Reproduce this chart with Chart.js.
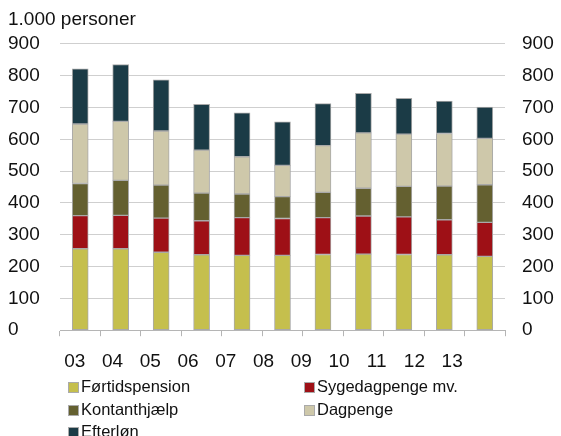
<!DOCTYPE html>
<html>
<head>
<meta charset="utf-8">
<script src="https://cdn.jsdelivr.net/npm/chart.js@4.4.1/dist/chart.umd.min.js"></script>
<style>
  html, body { margin: 0; padding: 0; background: #fff; }
  #wrap { position: relative; width: 561px; height: 436px; overflow: hidden; }
  #legend { position: absolute; left: 68px; top: 375px; width: 480px; font-family: "Liberation Sans", Arial, sans-serif; font-size: 16.5px; color: #111; }
  .item { position: absolute; height: 22px; line-height: 22px; white-space: nowrap; }
  .box { display: inline-block; width: 11px; height: 11px; margin-right: 2px; vertical-align: -1px; border: 1px solid #aaa; box-sizing: border-box; }
</style>
</head>
<body>
<div id="wrap">
  <canvas id="c" width="561" height="436"></canvas>
  <div id="legend"></div>
</div>
<script>
const categories = ["03","04","05","06","07","08","09","10","11","12","13"];
const fortidspension = [256,256,245,237,235,235,238,239,238,237,232];
const sygedagpenge   = [104,105,107,107,119,116,116,120,118,110,107];
const kontanthjaelp  = [101,110,104, 87, 74, 69, 79, 87, 96,106,118];
const dagpenge       = [187,185,170,135,117, 98,147,174,164,165,146];
const efterlon       = [173,179,161,144,138,137,132,124,113,102, 98];
const seriesNames = ["Førtidspension","Sygedagpenge mv.","Kontanthjælp","Dagpenge","Efterløn"];
const yTicks = [0,100,200,300,400,500,600,700,800,900];
const titleText = "1.000 personer";

const colors = ["#c5bf4d","#9e1016","#646030","#cec8aa","#1b3b46"];
const values = [fortidspension, sygedagpenge, kontanthjaelp, dagpenge, efterlon];

const datasets = seriesNames.map((n, i) => ({
  label: n,
  data: values[i],
  xAxisID: "x",
  backgroundColor: colors[i],
  borderColor: "#a9a9a9",
  borderWidth: 1,
  borderSkipped: false,
  barThickness: 16
}));

const font = { family: "'Liberation Sans', Arial, sans-serif", size: 19 };

// the reference's category labels sit on a slightly narrower band than the bars
const labelBand = {
  id: "labelBand",
  afterLayout(chart) {
    const s = chart.scales.x2;
    const a = chart.chartArea;
    s.left = a.left - 4;
    s.right = a.right - 34;
    s.width = s.right - s.left;
    s.configure();
  }
};

new Chart(document.getElementById("c"), {
  type: "bar",
  data: { labels: categories, datasets },
  plugins: [labelBand],
  options: {
    responsive: false,
    animation: false,
    layout: { padding: { left: 8, right: 0, top: 0, bottom: 49 } },
    plugins: {
      legend: { display: false },
      tooltip: { enabled: false },
      title: {
        display: true, text: titleText, align: "start", color: "#111",
        font: { ...font, weight: "normal" }, padding: { top: 8, bottom: 13 }
      }
    },
    scales: {
      x: {
        stacked: true,
        grid: { display: true, drawOnChartArea: false, drawTicks: true, tickLength: 6, color: "#b5b5b5", offset: true },
        border: { display: true, color: "#b5b5b5" },
        ticks: { display: false }
      },
      x2: {
        type: "category", position: "bottom", labels: categories, offset: true,
        grid: { display: false, drawTicks: false },
        border: { display: false },
        ticks: { color: "#111", font, padding: 14 }
      },
      y: {
        stacked: true, position: "left", min: 0, max: 900,
        afterBuildTicks: s => { s.ticks = yTicks.map(v => ({ value: v })); },
        afterFit: s => { s.width = 52; },
        grid: { color: "#cfcfcf", drawTicks: false },
        border: { display: false },
        ticks: { color: "#111", font, crossAlign: "far", padding: 0 }
      },
      y2: {
        position: "right", min: 0, max: 900,
        afterBuildTicks: s => { s.ticks = yTicks.map(v => ({ value: v })); },
        afterFit: s => { s.width = 56; },
        grid: { display: false, drawTicks: false },
        border: { display: false },
        ticks: { color: "#111", font, padding: 17 }
      }
    }
  }
});

// HTML legend, two columns
const legend = document.getElementById("legend");
seriesNames.forEach((n, i) => {
  const d = document.createElement("div");
  d.className = "item";
  d.style.left = (i % 2 === 0 ? 0 : 236) + "px";
  d.style.top = (Math.floor(i / 2) * 22.5) + "px";
  d.innerHTML = '<span class="box" style="background:' + colors[i] + '"></span>' + n;
  legend.appendChild(d);
});
</script>
</body>
</html>
